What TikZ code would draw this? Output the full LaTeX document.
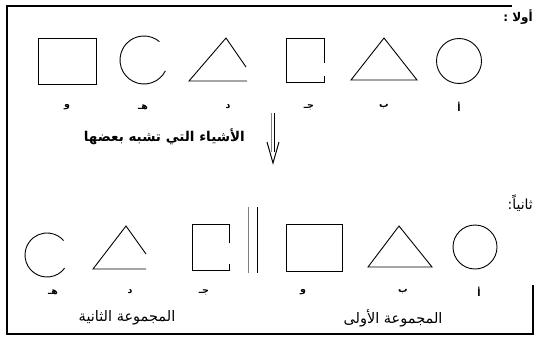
\documentclass[tikz,border=0pt]{standalone}
\usepackage{fontspec}
\TeXXeTstate=1
\newfontfamily\arabicfont[Script=Arabic]{DejaVu Sans}
\begin{document}
\begin{tikzpicture}[x=1pt,y=-1pt,
  shp/.style={line width=0.9pt, line join=miter},
  frm/.style={line width=1.3pt},
  lbl/.style={font=\arabicfont\bfseries\fontsize{9.5}{11}\selectfont, inner sep=0pt},
  head/.style={font=\arabicfont\bfseries\fontsize{12}{13}\selectfont, inner sep=0pt, anchor=east},
  bigtxt/.style={font=\arabicfont\bfseries\fontsize{13.5}{14}\selectfont, inner sep=0pt},
  grp/.style={font=\arabicfont\fontsize{14.5}{15}\selectfont, inner sep=0pt}]
\useasboundingbox (0,0) rectangle (534,337);
% frame
\draw[frm] (512,6) -- (7,6) -- (7,334) -- (533,334) -- (533,285);
% headings
\node[head] (h1) at (533,17) {\beginR أولا :\endR};
\node[head, font=\arabicfont\fontsize{14}{15}\selectfont] (h2) at (533,203) {\beginR ثانياً:\endR};
% ---- top row ----
\draw[shp] (38,38) rectangle (96,84);
\draw[shp] (144,60) ++(27:24) arc (27:310:24);
\draw[shp] (246,67) -- (226,38) -- (189,81) -- (247,81);
\draw[shp] (324,63) -- (324,38) -- (286,38) -- (286,82) -- (324,82) -- (324,76);
\draw[shp] (351,80) -- (384,38) -- (417,80) -- cycle;
\draw[shp] (459,61) circle (22.5);
\node[lbl] (t6) at (67,107) {\beginR و\endR};
\node[lbl] (t5) at (143,107) {\beginR هـ\endR};
\node[lbl] (t4) at (228,107) {\beginR د\endR};
\node[lbl] (t3) at (309,107) {\beginR جـ\endR};
\node[lbl] (t2) at (384,107) {\beginR ب\endR};
\node[lbl] (t1) at (459,107) {\beginR أ\endR};
% arrow
\coordinate (a1) at (271,113);
\coordinate (a2) at (271,152);
\coordinate (b1) at (274,113);
\coordinate (b2) at (274,152);
\coordinate (tip) at (273,163);
\draw[line width=0.5pt, gray] (a1) -- (a2);
\draw[line width=0.6pt] (b1) -- (b2);
\draw[line width=1pt] (267,142) -- (tip) -- (279,142);
\node[bigtxt, anchor=east] (mid) at (245,137) {\beginR الأشياء التي تشبه بعضها\endR};
% ---- bottom row ----
\draw[shp] (47,255) ++(37:22) arc (37:319:22);
\draw[shp] (146,254) -- (126,226) -- (93,269) -- (146,269);
\draw[shp] (229,243) -- (229,224) -- (192,224) -- (192,270) -- (229,270) -- (229,264);
\draw[line width=0.6pt, gray] (248,207) -- (248,273);
\draw[line width=0.8pt] (257,207) -- (257,273);
\draw[shp] (286,224) rectangle (342,271);
\draw[shp] (368,267) -- (399,226) -- (432,267) -- cycle;
\draw[shp] (475,247) circle (22);
\node[lbl] (u5) at (53,292) {\beginR هـ\endR};
\node[lbl] (u4) at (130,292) {\beginR د\endR};
\node[lbl] (u3) at (204,292) {\beginR جـ\endR};
\node[lbl] (u6) at (303,292) {\beginR و\endR};
\node[lbl] (u2) at (403,292) {\beginR ب\endR};
\node[lbl] (u1) at (479,292) {\beginR أ\endR};
\node[grp] (g2) at (127,318) {\beginR المجموعة الثانية\endR};
\node[grp] (g1) at (393,318) {\beginR المجموعة الأولى\endR};
\end{tikzpicture}
\end{document}
